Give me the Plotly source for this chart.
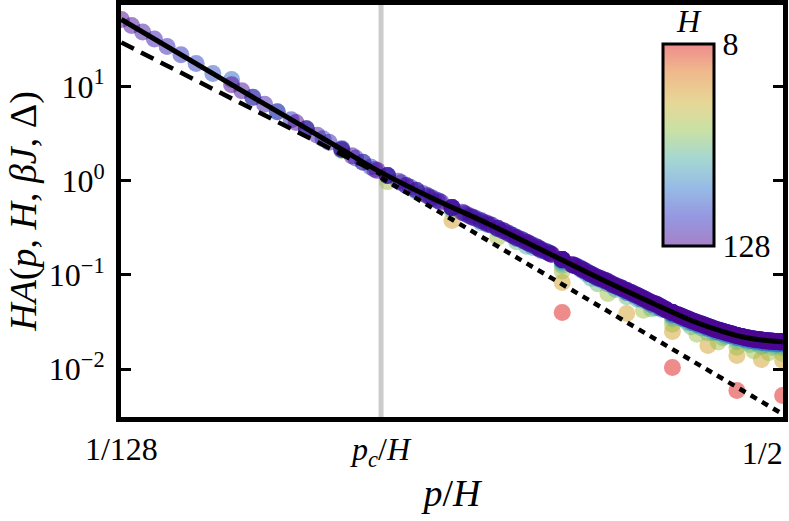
"""
Scaling collapse of H*A(p, H, beta J, Delta) against p/H
"""
import math
import plotly.graph_objects as go

# system sizes; each series has one value per p = 1 .. H/2, plotted at p/H
sizes = [8, 16, 24, 32, 40, 48, 56, 64, 72, 80, 88, 96, 104, 112, 120, 128]

ha_8 = [0.0398, 0.0104, 0.0059, 0.00523]
ha_16 = [0.379, 0.083, 0.0389, 0.0250, 0.0178, 0.0139, 0.0126, 0.0124]
ha_24 = [0.980, 0.250, 0.110, 0.0633, 0.0422, 0.0299, 0.0234, 0.0194,
         0.0170, 0.0156, 0.0149, 0.0146]
ha_32 = [2.09, 0.484, 0.225, 0.126, 0.0807, 0.0587, 0.0438, 0.0342,
         0.0282, 0.0243, 0.0215, 0.0195, 0.0182, 0.0175, 0.0169, 0.0168]
ha_40 = [3.57, 0.769, 0.358, 0.202, 0.133, 0.0924, 0.0699, 0.0553, 0.0446, 0.0362,
         0.0310, 0.0273, 0.0243, 0.0223, 0.0207, 0.0195, 0.0187, 0.0182, 0.0178, 0.0177]
ha_48 = [5.42, 1.14, 0.510, 0.307, 0.195, 0.139, 0.103, 0.0802, 0.0649, 0.0534,
         0.0449, 0.0378, 0.0333, 0.0296, 0.0269, 0.0246, 0.0230, 0.0216, 0.0205, 0.0198,
         0.0193, 0.0189, 0.0186, 0.0185]
ha_56 = [7.73, 1.57, 0.693, 0.408, 0.276, 0.195, 0.142, 0.110, 0.0873, 0.0721,
         0.0609, 0.0515, 0.0446, 0.0386, 0.0345, 0.0311, 0.0286, 0.0264, 0.0246, 0.0233,
         0.0220, 0.0211, 0.0204, 0.0199, 0.0195, 0.0192, 0.0190, 0.0189]
ha_64 = [11.9, 2.20, 0.891, 0.520, 0.343, 0.244, 0.182, 0.142, 0.114, 0.0916,
         0.0771, 0.0650, 0.0561, 0.0485, 0.0429, 0.0379, 0.0344, 0.0312, 0.0290, 0.0269,
         0.0250, 0.0238, 0.0227, 0.0216, 0.0208, 0.0201, 0.0196, 0.0191, 0.0189, 0.0187,
         0.0185, 0.0184]
ha_72 = [13.8, 2.80, 1.14, 0.647, 0.428, 0.313, 0.235, 0.181, 0.146, 0.120,
         0.0981, 0.0844, 0.0729, 0.0639, 0.0562, 0.0498, 0.0443, 0.0398, 0.0365, 0.0335,
         0.0312, 0.0293, 0.0274, 0.0259, 0.0247, 0.0237, 0.0227, 0.0220, 0.0213, 0.0208,
         0.0205, 0.0201, 0.0199, 0.0197, 0.0196, 0.0195]
ha_80 = [17.6, 3.57, 1.40, 0.793, 0.520, 0.377, 0.287, 0.222, 0.178, 0.146,
         0.122, 0.1015, 0.0885, 0.0768, 0.0683, 0.0608, 0.0540, 0.0490, 0.0437, 0.0398,
         0.0368, 0.0341, 0.0318, 0.0300, 0.0283, 0.0267, 0.0256, 0.0245, 0.0236, 0.0227,
         0.0221, 0.0214, 0.0210, 0.0206, 0.0203, 0.0200, 0.0198, 0.0196, 0.0196, 0.0195]
ha_88 = [21.9, 4.44, 1.75, 0.953, 0.622, 0.444, 0.342, 0.266, 0.213, 0.175,
         0.146, 0.124, 0.105, 0.0914, 0.0806, 0.0721, 0.0647, 0.0582, 0.0523, 0.0482,
         0.0433, 0.0398, 0.0371, 0.0345, 0.0324, 0.0306, 0.0291, 0.0276, 0.0262, 0.0253,
         0.0244, 0.0235, 0.0227, 0.0221, 0.0215, 0.0211, 0.0207, 0.0204, 0.0202, 0.0200,
         0.0198, 0.0196, 0.0195, 0.0195]
ha_96 = [26.7, 5.42, 2.15, 1.14, 0.733, 0.520, 0.395, 0.313, 0.250, 0.206,
         0.172, 0.146, 0.125, 0.108, 0.0938, 0.0844, 0.0754, 0.0683, 0.0619, 0.0562,
         0.0509, 0.0473, 0.0429, 0.0398, 0.0373, 0.0350, 0.0328, 0.0312, 0.0297, 0.0283,
         0.0270, 0.0259, 0.0250, 0.0242, 0.0235, 0.0227, 0.0222, 0.0216, 0.0212, 0.0208,
         0.0206, 0.0203, 0.0201, 0.0199, 0.0197, 0.0196, 0.0195, 0.0195]
ha_104 = [32.1, 6.52, 2.57, 1.32, 0.852, 0.605, 0.455, 0.361, 0.292, 0.240,
          0.200, 0.170, 0.146, 0.126, 0.111, 0.0968, 0.0877, 0.0782, 0.0715, 0.0653,
          0.0597, 0.0545, 0.0502, 0.0466, 0.0425, 0.0398, 0.0375, 0.0353, 0.0333, 0.0317,
          0.0302, 0.0290, 0.0277, 0.0265, 0.0256, 0.0248, 0.0241, 0.0234, 0.0227, 0.0222,
          0.0217, 0.0213, 0.0209, 0.0207, 0.0204, 0.0202, 0.0200, 0.0198, 0.0197, 0.0196,
          0.0195, 0.0195]
ha_112 = [38.1, 7.73, 3.04, 1.57, 0.991, 0.693, 0.520, 0.408, 0.336, 0.276,
          0.231, 0.195, 0.168, 0.146, 0.127, 0.113, 0.0993, 0.0900, 0.0814, 0.0743,
          0.0683, 0.0628, 0.0578, 0.0531, 0.0495, 0.0460, 0.0423, 0.0398, 0.0376, 0.0356,
          0.0337, 0.0321, 0.0307, 0.0295, 0.0283, 0.0272, 0.0261, 0.0254, 0.0247, 0.0240,
          0.0234, 0.0227, 0.0222, 0.0218, 0.0214, 0.0210, 0.0207, 0.0205, 0.0203, 0.0201,
          0.0199, 0.0198, 0.0197, 0.0196, 0.0195, 0.0195]
ha_120 = [44.6, 9.06, 3.57, 1.84, 1.14, 0.793, 0.593, 0.463, 0.377, 0.313,
          0.262, 0.222, 0.190, 0.166, 0.146, 0.128, 0.115, 0.1015, 0.0920, 0.0844,
          0.0768, 0.0710, 0.0657, 0.0608, 0.0562, 0.0519, 0.0490, 0.0455, 0.0420, 0.0398,
          0.0378, 0.0359, 0.0341, 0.0325, 0.0312, 0.0300, 0.0289, 0.0278, 0.0267, 0.0259,
          0.0252, 0.0245, 0.0239, 0.0233, 0.0227, 0.0223, 0.0218, 0.0214, 0.0211, 0.0208,
          0.0206, 0.0204, 0.0202, 0.0200, 0.0199, 0.0197, 0.0196, 0.0196, 0.0195, 0.0195]
ha_128 = [51.8, 10.5, 4.17, 2.15, 1.29, 0.891, 0.665, 0.520, 0.418, 0.352,
          0.296, 0.250, 0.216, 0.186, 0.165, 0.146, 0.129, 0.117, 0.1035, 0.0938,
          0.0872, 0.0791, 0.0735, 0.0683, 0.0634, 0.0590, 0.0548, 0.0509, 0.0485, 0.0450,
          0.0418, 0.0398, 0.0379, 0.0361, 0.0344, 0.0328, 0.0316, 0.0304, 0.0294, 0.0283,
          0.0273, 0.0263, 0.0257, 0.0250, 0.0244, 0.0238, 0.0233, 0.0227, 0.0223, 0.0219,
          0.0215, 0.0212, 0.0209, 0.0207, 0.0205, 0.0203, 0.0201, 0.0200, 0.0198, 0.0197,
          0.0196, 0.0196, 0.0195, 0.0195]

series = {8: ha_8, 16: ha_16, 24: ha_24, 32: ha_32, 40: ha_40, 48: ha_48,
          56: ha_56, 64: ha_64, 72: ha_72, 80: ha_80, 88: ha_88, 96: ha_96,
          104: ha_104, 112: ha_112, 120: ha_120, 128: ha_128}

# theory curve (solid) and the two power-law guides
curve_x = [0.0078125, 0.015625, 0.0234375, 0.03125, 0.0390625, 0.0546875,
           0.078125, 0.109375, 0.15625, 0.21875, 0.28125, 0.34375, 0.40625, 0.5]
curve_y = [51.8, 10.5, 4.17, 2.15, 1.29, 0.665,
           0.352, 0.186, 0.0938, 0.0509, 0.0328, 0.0250, 0.0212, 0.0195]
small_p_x = [1 / 128, 0.04]
small_p_y = [29.5, 1.17]
large_p_x = [0.04, 0.5]
large_p_y = [1.08, 0.00332]

pc_over_h = 0.04

FONT = "Liberation Serif"

# plot area in pixels
LEFT, RIGHT, TOP, BOTTOM = 121, 783, 5, 417
PW, PH = RIGHT - LEFT, BOTTOM - TOP

X_RANGE = [math.log10(1 / 128) - 0.001, math.log10(0.5) + 0.001]

# bottom of the bar is H=128, top is H=8 (colour value is -log2 H)
colorscale = [
    [0.0, "rgba(75,5,145,0.5)"],
    [0.14, "rgba(45,45,195,0.5)"],
    [0.28, "rgba(45,115,205,0.5)"],
    [0.43, "rgba(75,175,165,0.5)"],
    [0.57, "rgba(145,195,75,0.5)"],
    [0.71, "rgba(205,175,45,0.5)"],
    [0.86, "rgba(225,115,25,0.5)"],
    [1.0, "rgba(221,25,25,0.5)"],
]

fig = go.Figure()

for h in sizes:
    values = series[h]
    fig.add_trace(go.Scatter(
        x=[p / h for p in range(1, len(values) + 1)],
        y=values,
        mode="markers",
        name="H = {}".format(h),
        marker=dict(size=17, color=[-math.log2(h)] * len(values),
                    coloraxis="coloraxis", line_width=0),
        showlegend=False,
    ))

fig.add_trace(go.Scatter(
    x=small_p_x, y=small_p_y, mode="lines",
    line=dict(color="black", width=4.5, dash="14px,8px"),
    showlegend=False,
))
# drawn on the twin x axis, which only carries the right-aligned "1/2" label
fig.add_trace(go.Scatter(
    x=large_p_x, y=large_p_y, mode="lines", xaxis="x2",
    line=dict(color="black", width=4.5, dash="7px,6px"),
    showlegend=False,
))
fig.add_trace(go.Scatter(
    x=curve_x, y=curve_y, mode="lines",
    line=dict(color="black", width=5, shape="spline"),
    showlegend=False,
))

fig.add_vline(x=pc_over_h, line_color="#cccccc", line_width=5, layer="below")

# colour bar title
fig.add_annotation(
    text="<i>H</i>", xref="paper", yref="paper",
    x=(689 - LEFT) / PW, y=1 - (41 - TOP) / PH, xanchor="center", yanchor="bottom",
    showarrow=False, font=dict(size=32),
)

fig.update_layout(
    width=789,
    height=521,
    margin=dict(l=LEFT, r=789 - RIGHT, t=TOP, b=521 - BOTTOM, autoexpand=False),
    paper_bgcolor="white",
    plot_bgcolor="white",
    font=dict(family=FONT, size=32, color="black"),
    coloraxis=dict(
        colorscale=colorscale,
        cmin=-7,
        cmax=-3,
        colorbar=dict(
            tickvals=[-7, -3],
            ticktext=["128", "8"],
            ticks="",
            tickfont=dict(size=32),
            thicknessmode="pixels",
            thickness=51,
            lenmode="pixels",
            len=202,
            x=(663 - LEFT) / PW,
            xanchor="left",
            y=1 - (44 - TOP) / PH,
            yanchor="top",
            xpad=0,
            ypad=0,
            outlinecolor="black",
            outlinewidth=3,
            bgcolor="rgba(0,0,0,0)",
        ),
    ),
    xaxis=dict(
        type="log",
        range=X_RANGE,
        tickvals=[1 / 128, pc_over_h],
        ticktext=["1/128", "<i>p<sub>c</sub></i>/<i>H</i>"],
        ticks="",
        showline=True,
        linecolor="black",
        linewidth=5,
        mirror=True,
        showgrid=False,
        zeroline=False,
        automargin=False,
        title=dict(text="<i>p</i>/<i>H</i>", standoff=10),
    ),
    xaxis2=dict(
        type="log",
        range=X_RANGE,
        overlaying="x",
        side="bottom",
        tickvals=[0.5],
        ticktext=["1/2"],
        ticklabelposition="outside left",
        ticklabelstandoff=14,
        ticks="",
        showline=False,
        showgrid=False,
        zeroline=False,
        automargin=False,
    ),
    yaxis=dict(
        type="log",
        range=[-2.51, 1.868],
        tickvals=[0.01, 0.1, 1, 10],
        ticktext=["10<sup>\u22122</sup>", "10<sup>\u22121</sup>",
                  "10<sup>0</sup>", "10<sup>1</sup>"],
        ticklabelstandoff=5,
        ticks="inside",
        ticklen=10,
        tickwidth=3,
        tickcolor="black",
        showline=True,
        linecolor="black",
        linewidth=5,
        mirror="ticks",
        showgrid=False,
        zeroline=False,
        automargin=False,
        title=dict(text="<i>HA</i>(<i>p</i>, <i>H</i>, <i>βJ</i>, Δ)", standoff=2),
    ),
)

# the page's default body margin would push the figure 8px down and right
fig.write_html(
    "out.html",
    config={"displayModeBar": False},
    post_script="document.body.style.margin = '0';",
)
